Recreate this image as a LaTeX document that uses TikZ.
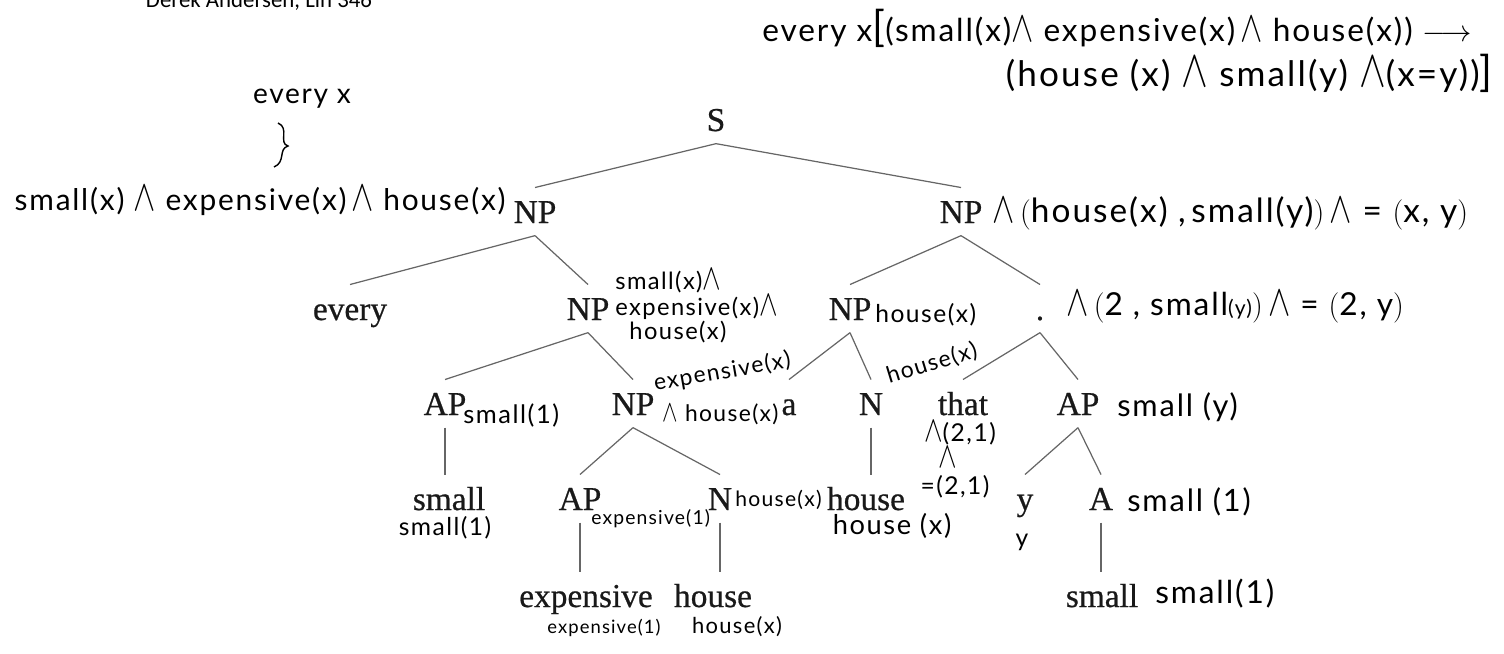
\documentclass[tikz,border=0pt]{standalone}
\usepackage{graphicx}
\usepackage{fontspec}
\setmainfont{Liberation Serif}
\newfontfamily\catfont{Liberation Serif}[FakeBold=0.6]
\newfontfamily\handfont{Lato}[LetterSpace=6]
\newfontfamily\headfont{Carlito}
\newcommand\andsym{\scalebox{1.1}[1.45]{$\wedge$}}

\begin{document}
\begin{tikzpicture}[x=0.02cm, y=-0.02cm,
    cat/.style={anchor=base, font=\catfont\fontsize{19}{19}\selectfont, text=black!90,
      text height=17pt, text depth=4pt, inner xsep=1pt, inner ysep=3pt},
    ann/.style={anchor=base west, font=\handfont\fontsize{#1}{#1}\selectfont, inner sep=0pt},
    ann/.default=15,
    branch/.style={draw=black!60, line width=0.7pt}]
    \useasboundingbox (0,0) rectangle (1504,653);

    % header, cut by the page edge
    \node[anchor=base, font=\headfont\fontsize{13}{13}\selectfont, inner sep=0pt] (head) at (259,7) {Derek Andersen, Lin 346};

    % tree
    \node[cat] (s) at (716,131) {S};
    \node[cat] (np1) at (535,223) {NP};
    \node[cat] (np2) at (961,223) {NP};
    \node[cat] (every) at (350,320) {every};
    \node[cat] (np3) at (588,320) {NP};
    \node[cat] (np4) at (850,320) {NP};
    \node[cat] (dot) at (1040,320) {.};
    \node[cat] (ap1) at (445,415) {AP};
    \node[cat] (np5) at (633,415) {NP};
    \node[cat] (alab) at (789,415) {a};
    \node[cat] (n1) at (871,415) {N};
    \node[cat] (that) at (963,415) {that};
    \node[cat] (ap2) at (1078,415) {AP};
    \node[cat] (small1) at (449,510) {small};
    \node[cat] (ap3) at (580,510) {AP};
    \node[cat] (n2) at (720,510) {N};
    \node[cat] (house1) at (866,510) {house};
    \node[cat] (ylab) at (1025,510) {y};
    \node[cat] (a2) at (1101,510) {A};
    \node[cat] (expensive) at (586,607) {expensive};
    \node[cat] (house2) at (713,607) {house};
    \node[cat] (small2) at (1102,607) {small};

    \draw[branch] (s.south) -- (np1.north);
    \draw[branch] (s.south) -- (np2.north);
    \draw[branch] (np1.south) -- (every.north);
    \draw[branch] (np1.south) -- (np3.north);
    \draw[branch] (np2.south) -- (np4.north);
    \draw[branch] (np2.south) -- (dot.north);
    \draw[branch] (np3.south) -- (ap1.north);
    \draw[branch] (np3.south) -- (np5.north);
    \draw[branch] (np4.south) -- (alab.north);
    \draw[branch] (np4.south) -- (n1.north);
    \draw[branch] (dot.south) -- (that.north);
    \draw[branch] (dot.south) -- (ap2.north);
    \draw[branch] (ap1.south) -- (ap1.south |- small1.north);
    \draw[branch] (np5.south) -- (ap3.north);
    \draw[branch] (np5.south) -- (n2.north);
    \draw[branch] (n1.south) -- (n1.south |- house1.north);
    \draw[branch] (ap2.south) -- (ylab.north);
    \draw[branch] (ap2.south) -- (a2.north);
    \draw[branch] (ap3.south) -- (ap3.south |- expensive.north);
    \draw[branch] (n2.south) -- (n2.south |- house2.north);
    \draw[branch] (a2.south) -- (a2.south |- small2.north);

    % handwritten notes
    \node[ann=18] (top1) at (762,41) {every x{\fontsize{24}{24}\selectfont[}(small(x)\andsym\ expensive(x)\,\andsym\ house(x)) $\longrightarrow$};
    \node[ann=20, anchor=base east] (top2) at (1493,86) {(house (x) \andsym\ small(y) \andsym(x=y)){\fontsize{24}{24}\selectfont]}};
    \node[ann=16, anchor=base] (everyx) at (302,103) {every x};
    \draw[line width=0.8pt] (278,123) .. controls (290,128) and (278,143) .. (288,146)
      .. controls (278,149) and (286,162) .. (274,167);
    \node[ann=17, anchor=base east] (leftann) at (506,210) {small(x) \andsym\ expensive(x)\,\andsym\ house(x)};
    \node[ann=19] (np2ann) at (992,222) {\andsym\,$\bigl($house(x) ,\,small(y)$\bigr)$\,\andsym\ = $\bigl($x, y$\bigr)$};
    \node[ann=13.5, anchor=west, align=left, font=\handfont\fontsize{13.5}{12}\selectfont] (np3ann) at (615,306) {small(x)\andsym\\ expensive(x)\andsym\\ \hspace{8pt}house(x)};
    \node[ann=14] (np4ann) at (875,322) {house(x)};
    \node[ann=18] (dotann) at (1066,315) {\andsym\,$\bigl($2 , small{\fontsize{12}{12}\selectfont(y)}$\bigr)$\,\andsym\ = $\bigl($2, y$\bigr)$};
    \node[ann=14.5] (ap1ann) at (463,423) {small(1)};
    \node[ann=13, rotate=10] (np5sup) at (655,391) {expensive(x)};
    \node[ann=13] (np5sub) at (662,421) {\andsym\ house(x)};
    \node[ann=13, rotate=17] (n1sup) at (889,384) {house(x)};
    \node[ann=14, anchor=base] (that1) at (960,441) {\andsym(2,1)};
    \node[ann=14, anchor=base] (that2) at (948,467) {\andsym};
    \node[ann=14, anchor=base] (that3) at (955,494) {=(2,1)};
    \node[ann=17.5] (ap2ann) at (1117,416) {small (y)};
    \node[ann=14, anchor=base] (small1ann) at (445,535) {small(1)};
    \node[ann=11] (ap3ann) at (591,524) {expensive(1)};
    \node[ann=12] (n2ann) at (735,506) {house(x)};
    \node[ann=15.5, anchor=base] (house1ann) at (892,534) {house (x)};
    \node[ann=14, anchor=base] (yann) at (1022,546) {y};
    \node[ann=17.5] (a2ann) at (1127,511) {small (1)};
    \node[ann=18] (small2ann) at (1155,603) {small(1)};
    \node[ann=10.5, anchor=base] (expann) at (604,633) {expensive(1)};
    \node[ann=12.5, anchor=base] (house2ann) at (737,633) {house(x)};
\end{tikzpicture}
\end{document}
